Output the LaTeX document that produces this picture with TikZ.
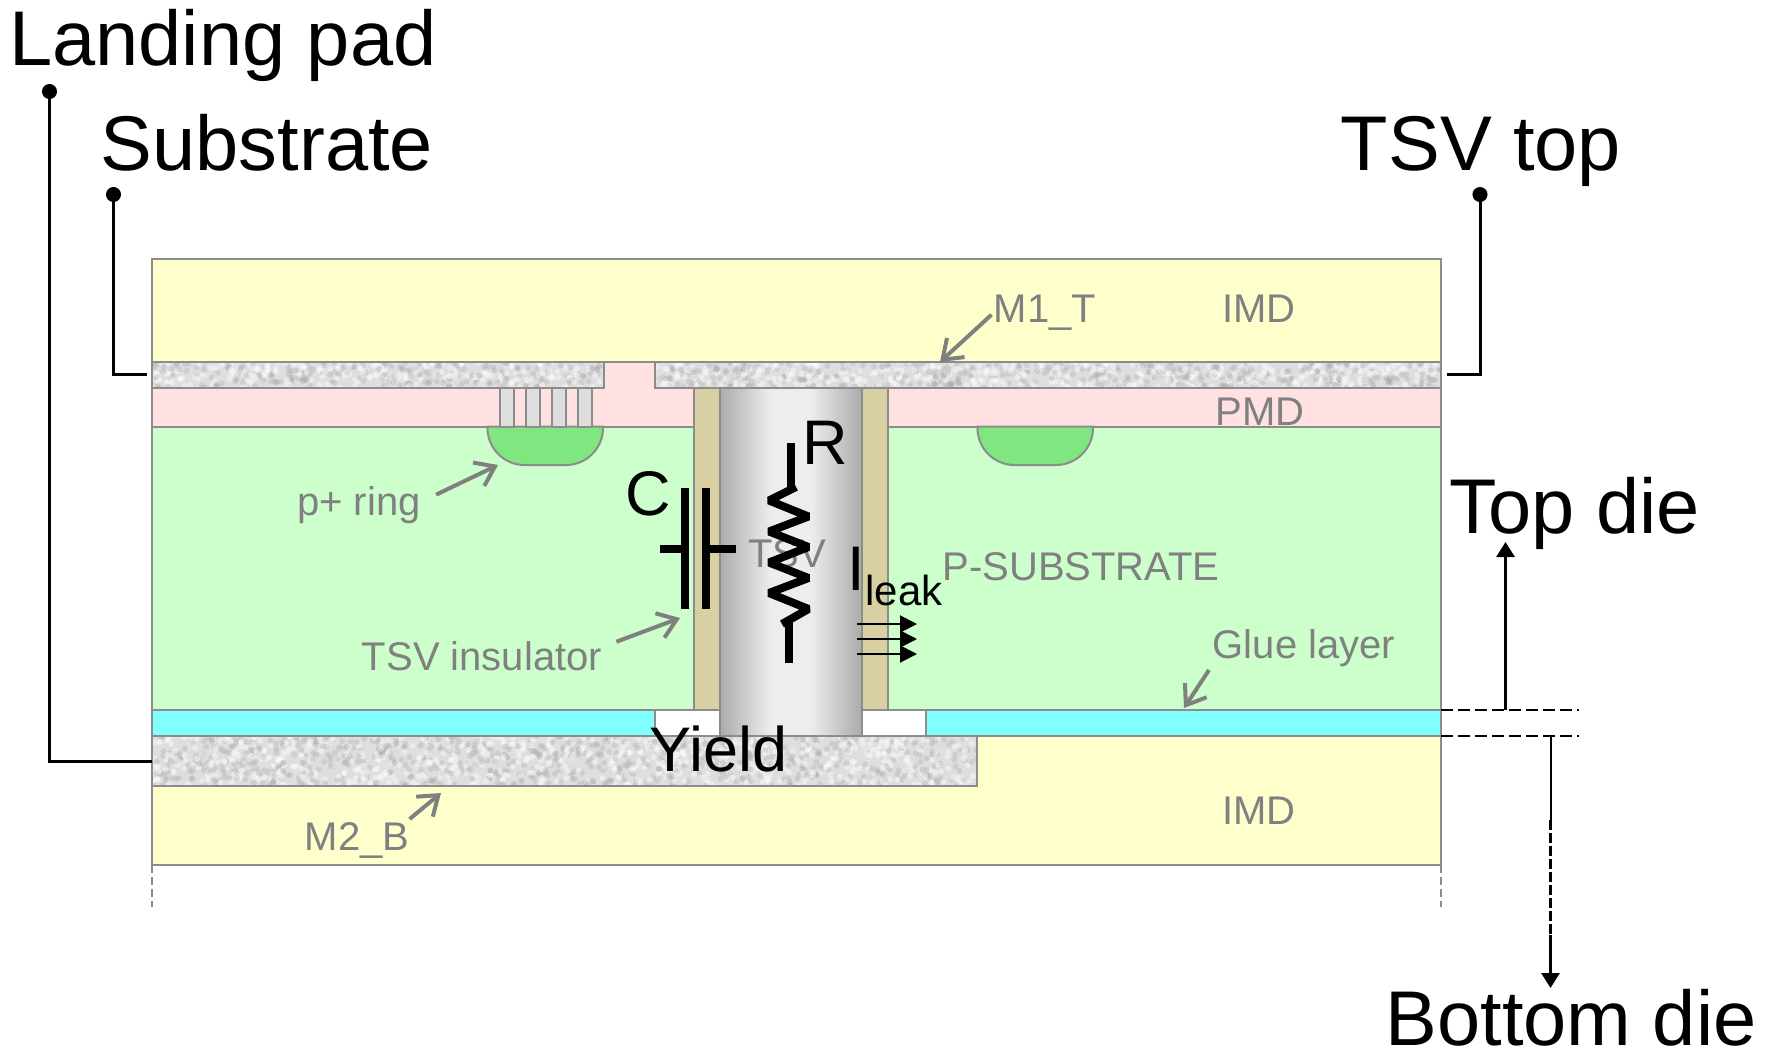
\documentclass[tikz,border=0pt]{standalone}
\usepackage{fontspec}
\setmainfont{Liberation Sans}
\usetikzlibrary{arrows.meta}
\definecolor{imdyellow}{HTML}{FFFFCC}
\definecolor{pmdpink}{HTML}{FFE1E1}
\definecolor{subgreen}{HTML}{CCFFCC}
\definecolor{ringgreen}{HTML}{80E680}
\definecolor{insulator}{HTML}{D8D0A2}
\definecolor{gluecyan}{HTML}{80FFFF}
\definecolor{layerline}{HTML}{8C8C8C}
\definecolor{labelgray}{HTML}{808080}
\definecolor{metalbase}{HTML}{DEDEDE}
\definecolor{tsvedge}{HTML}{ABABAB}
\definecolor{tsvmid}{HTML}{EDEDED}
\pgfdeclarehorizontalshading{tsvmetal}{100bp}{color(0bp)=(tsvedge); color(25bp)=(tsvedge); color(43bp)=(tsvmid); color(57bp)=(tsvmid); color(75bp)=(tsvedge); color(100bp)=(tsvedge)}
\tikzset{
	layer/.style={draw=layerline,line width=1pt},
	biglabel/.style={anchor=base,inner sep=0pt,font=\fontsize{38.8}{40}\selectfont},
	symlabel/.style={anchor=base,inner sep=0pt,font=\fontsize{31.5}{33}\selectfont},
	graylabel/.style={anchor=base,inner sep=0pt,text=labelgray,font=\fontsize{20}{22}\selectfont},
	grayarrow/.style={draw=labelgray,line width=2pt,-{Straight Barb[length=9pt,width=13pt,line width=2pt]}},
	leader/.style={line width=1.5pt,{Circle[length=7.5pt]}-},
	symbol/.style={line width=4pt},
	leakarrow/.style={line width=1pt,-{Triangle[length=8.5pt,width=8.5pt]}},
	diearrow/.style={line width=1.5pt,-{Triangle[length=7.5pt,width=9pt]}},
	dieline/.style={line width=1pt,dash pattern=on 6pt off 2.5pt}
}
\newcommand{\metalband}[5]{
	\begin{scope}
		\clip (#1,#2) rectangle (#3,#4);
		\fill[metalbase] (#1,#2) rectangle (#3,#4);
		\foreach \n in {1,...,#5} {
			\pgfmathsetmacro{\spotx}{#1+rnd*(#3-#1)}
			\pgfmathsetmacro{\spoty}{#2+rnd*(#4-#2)}
			\fill[black!35,opacity=.3] (\spotx,\spoty) circle[radius=3];
			\pgfmathsetmacro{\spotx}{#1+rnd*(#3-#1)}
			\pgfmathsetmacro{\spoty}{#2+rnd*(#4-#2)}
			\fill[white,opacity=.4] (\spotx,\spoty) circle[radius=3];
		}
	\end{scope}
	\draw[layer] (#1,#2) rectangle (#3,#4);
}

\begin{document}
\begin{tikzpicture}[x=0.5pt,y=-0.5pt]
		\useasboundingbox (0,0) rectangle (1772,1051);
		\pgfmathsetseed{11}
		% top die
		\draw[layer,fill=imdyellow] (152,259) rectangle (1441,362);
		\draw[layer,fill=pmdpink] (152,362) rectangle (1441,426.5);
		\draw[layer,fill=subgreen] (152,426.5) rectangle (1441,709.5);
		\metalband{152}{362}{604}{388}{230}
		\metalband{655}{362}{1441}{388}{400}
		\draw[layer,fill=ringgreen] (487.5,426.5) -- (487.5,428) arc[start angle=180,end angle=90,radius=37] -- (566,465) arc[start angle=90,end angle=0,radius=37] -- (603,426.5) -- cycle;
		\draw[layer,fill=ringgreen] (977.5,426.5) -- (977.5,428) arc[start angle=180,end angle=90,radius=37] -- (1056,465) arc[start angle=90,end angle=0,radius=37] -- (1093,426.5) -- cycle;
		\foreach \cx in {500,526,552,578} {
			\draw[layer,fill=metalbase] (\cx,388) rectangle (\cx+13.5,426.5);
		}
		% bottom die
		\draw[layer,fill=imdyellow] (152,735.5) rectangle (1441,865);
		\draw[layer,fill=gluecyan] (152,709.5) rectangle (655,735.5);
		\draw[layer,fill=gluecyan] (926,709.5) rectangle (1441,735.5);
		\draw[layer,fill=white] (655,709.5) rectangle (926,735.5);
		\metalband{152}{735.5}{977}{786}{720}
		% via
		\draw[layer,fill=insulator] (693.5,388) rectangle (887.5,709.5);
		\draw[layer,shading=tsvmetal] (719.5,388) rectangle (861.5,735.5);
		\draw[draw=layerline,line width=1.3pt,dash pattern=on 4pt off 2pt] (152,865) -- (152,907);
		\draw[draw=layerline,line width=1.3pt,dash pattern=on 4pt off 2pt] (1441,865) -- (1441,907);
		% gray labels
		\node(imdtop)[graylabel] at (1259,322.5) {IMD};
		\node(imdbot)[graylabel] at (1259,824.5) {IMD};
		\node(pmd)[graylabel] at (1260,425) {PMD};
		\node(mt)[graylabel] at (1045,322.5) {M1\_T};
		\node(mb)[graylabel] at (357,850) {M2\_B};
		\node(ring)[graylabel] at (359,515) {p+ ring};
		\node(tsv)[graylabel] at (787,567) {TSV};
		\node(psub)[graylabel] at (1081,580) {P-SUBSTRATE};
		\node(ins)[graylabel] at (482,670) {TSV insulator};
		\node(glue)[graylabel] at (1304,658) {Glue layer};
		% gray arrows
		\coordinate (mtend) at (940,362);
		\coordinate (ringend) at (498,465);
		\coordinate (insend) at (680,618);
		\coordinate (glueend) at (1184,708);
		\coordinate (mbend) at (441,793);
		\draw[grayarrow] (mt.west) ++(-2,2) -- (mtend);
		\draw[grayarrow] (ring.east) ++(15,-10) -- (ringend);
		\draw[grayarrow] (ins.east) ++(14,-14) -- (insend);
		\draw[grayarrow] (1209,670) -- (glueend);
		\draw[grayarrow] (mb.east) ++(0,-21) -- (mbend);
		% capacitor
		\draw[symbol] (685,488) -- (685,609);
		\draw[symbol] (705.5,488) -- (705.5,609);
		\draw[symbol] (660,548.5) -- (685,548.5);
		\draw[symbol] (705.5,548.5) -- (735.5,548.5);
		\node(cap)[symlabel] at (648,515) {C};
		% resistor
		\draw[symbol] (791,443) -- (791,487);
		\draw[symbol,miter limit=2] (796,487) -- (769,500.5) -- (808.5,516.5) -- (769,531.5) -- (808.5,547) -- (769,562.5) -- (808.5,578) -- (769,593) -- (808.5,609) -- (782,624);
		\draw[symbol] (789,621) -- (789,663);
		\node(res)[symlabel] at (825,464) {R};
		% leakage
		\node(leaki)[symlabel] at (856.5,590.5) {I};
		\node(leak)[anchor=base west,inner sep=0pt,font=\fontsize{21}{23}\selectfont] at (865,605.5) {leak};
		\foreach \ly in {624,639,654} {
			\draw[leakarrow] (857,\ly) -- (917,\ly);
		}
		\node(yield)[symlabel] at (718.5,771.5) {Yield};
		% leaders
		\node(landing)[biglabel] at (223,65.5) {Landing pad};
		\node(substrate)[biglabel] at (267,170) {Substrate};
		\node(tsvtop)[biglabel] at (1481,170) {TSV top};
		\node(topdie)[biglabel] at (1575,533) {Top die};
		\node(botdie)[biglabel] at (1571,1045) {Bottom die};
		\coordinate (landdot) at (49.5,84);
		\coordinate (subdot) at (113.5,187);
		\coordinate (topdot) at (1480,187);
		\coordinate (landpad) at (152,761.5);
		\coordinate (subpad) at (147,374.5);
		\coordinate (toppad) at (1447,374.5);
		\draw[leader] (landdot) |- (landpad);
		\draw[leader] (subdot) |- (subpad);
		\draw[leader] (topdot) |- (toppad);
		% die marks
		\coordinate (gluetop) at (1441,709.5);
		\coordinate (gluebot) at (1441,735.5);
		\coordinate (topend) at (1579,709.5);
		\coordinate (botend) at (1579,735.5);
		\coordinate (uptip) at (1505.5,542);
		\coordinate (downtip) at (1550.5,988);
		\draw[dieline] (gluetop) -- (topend);
		\draw[dieline] (gluebot) -- (botend);
		\draw[diearrow] (1505.5,709.5) -- (uptip);
		\draw[line width=1pt] (1550.5,735.5) -- (1550.5,820);
		\draw[line width=1.5pt,dash pattern=on 5pt off 1.5pt] (1550.5,820) -- (1550.5,935);
		\draw[diearrow] (1550.5,935) -- (downtip);
\end{tikzpicture}
\end{document}
